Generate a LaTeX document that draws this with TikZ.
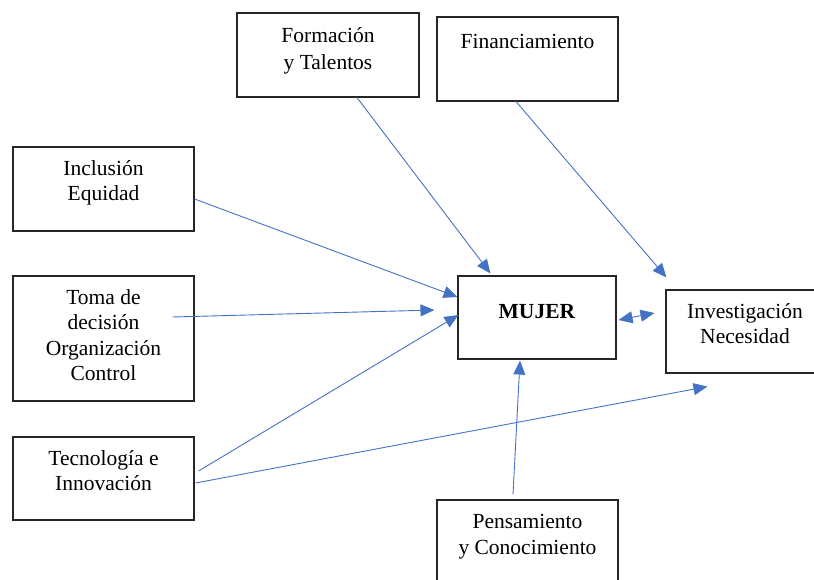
\documentclass[tikz,border=0pt]{standalone}
\usepackage{fontspec}
\setmainfont{Liberation Serif}
\usepackage{tikz}
\usetikzlibrary{arrows.meta}
\definecolor{azulflecha}{HTML}{4472C4}
\tikzset{
  caja/.style = {draw=black!85, line width=1.1pt, rectangle, inner sep=0pt,
    fill=white},% caja del esquema
  texto/.style = {anchor=north, align=center, inner sep=0pt, yshift=-14pt,
    font=\fontsize{21.5}{25.3}\selectfont},% texto arriba en la caja
  flecha/.style = {draw=azulflecha, line width=0.9pt,
    -{Triangle[length=14pt,width=12pt]}},% flecha azul
  dobleflecha/.style = {flecha, {Triangle[length=14pt,width=12pt]}-{Triangle[length=14pt,width=12pt]}}
}

\begin{document}
\begin{tikzpicture}[x=1pt, y=-1pt]
  \clip (0,0) rectangle (814,580);
  % cajas
  \node [caja, minimum width=182pt, minimum height=84pt,
    label={[texto, yshift=-1pt, font=\fontsize{21.5}{26.5}\selectfont]north:Formación\\y Talentos}] (form) at (328,55) {};
  \node [caja, minimum width=181pt, minimum height=84pt,
    label={[texto, yshift=-4pt]north:Financiamiento}] (fin) at (527.5,59) {};
  \node [caja, minimum width=181pt, minimum height=84pt,
    label={[texto]north:Inclusión\\Equidad}] (inc) at (103.5,189) {};
  \node [caja, minimum width=181pt, minimum height=125pt,
    label={[texto]north:Toma de\\decisión\\Organización\\Control}] (toma) at (103.5,338.5) {};
  \node [caja, minimum width=181pt, minimum height=83pt,
    label={[texto]north:Tecnología e\\Innovación}] (tec) at (103.5,478.5) {};
  \node [caja, minimum width=158pt, minimum height=83pt,
    label={[texto, yshift=-15pt]north:\textbf{MUJER}}] (mujer) at (537,317.5) {};
  \node [caja, minimum width=170pt, minimum height=83pt,
    label={[texto, xshift=-6pt]north:Investigación\\Necesidad}] (inv) at (751,331.5) {};
  \node [caja, minimum width=181pt, minimum height=90pt,
    label={[texto, yshift=-1pt]north:Pensamiento\\y Conocimiento}] (pens) at (527.5,545) {};
  % flechas
  \draw [flecha] ([xshift=29pt]form.south) -- ([xshift=33pt,yshift=2pt]mujer.north west);
  \draw [flecha] ([xshift=-11.5pt]fin.south) -- ([xshift=1pt,yshift=12pt]inv.north west);
  \draw [flecha] ([yshift=-10pt]inc.east) -- ([yshift=20.5pt]mujer.west);
  \draw [flecha] ([xshift=-22pt,yshift=21.5pt]toma.east) -- ([xshift=-23pt,yshift=7.5pt]mujer.west);
  \draw [flecha] ([xshift=4pt,yshift=7.5pt]tec.east) -- ([xshift=1pt,yshift=2.5pt]mujer.west);
  \draw [flecha] ([xshift=1pt,yshift=-4.5pt]tec.east) -- ([xshift=42pt,yshift=-13pt]inv.south west);
  \draw [flecha] ([xshift=-14.5pt,yshift=5pt]pens.north) -- ([xshift=-17pt,yshift=-1pt]mujer.south);
  \draw [dobleflecha] ([xshift=2pt,yshift=-2.5pt]mujer.east) -- ([xshift=-11pt,yshift=18.5pt]inv.west);
\end{tikzpicture}
\end{document}
